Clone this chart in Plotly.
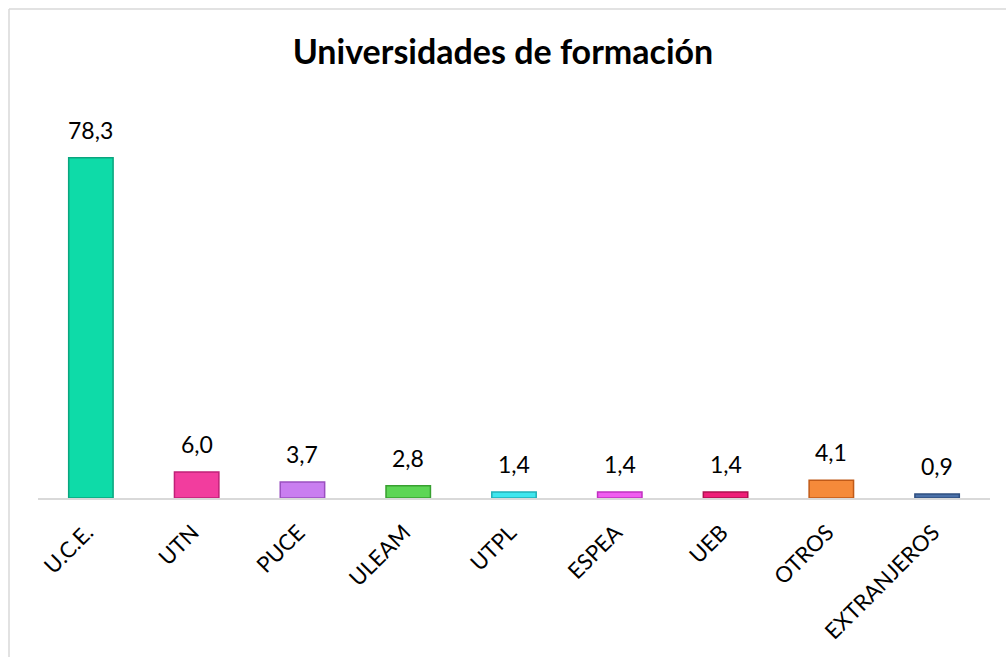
import plotly.graph_objects as go

categories = ["U.C.E.", "UTN", "PUCE", "ULEAM", "UTPL", "ESPEA", "UEB", "OTROS", "EXTRANJEROS"]
values = [78.3, 6.0, 3.7, 2.8, 1.4, 1.4, 1.4, 4.1, 0.9]
colors = ["#0edba8", "#f23d9e", "#c97ef0", "#5dd655", "#3fe6ee", "#f05cf0", "#ee1f78", "#f58a3a", "#4a70a8"]
edge_colors = ["#0aa57e", "#c02078", "#9a50c0", "#38a030", "#20b0b8", "#c030c0", "#b01050", "#c05a18", "#2f4f80"]

W, H = 1006, 657
L, R, T, B = 38, 16, 107, 159
pw, ph = W - L - R, H - T - B

fig = go.Figure(go.Bar(
    x=categories,
    y=values,
    width=0.42,
    marker=dict(color=colors, line=dict(color=edge_colors, width=1.5)),
    hoverinfo="x+y",
))

annotations = [
    dict(x=c, y=v, text=f"{v:.1f}".replace(".", ","), xref="x", yref="y",
         showarrow=False, yanchor="bottom", xanchor="center", yshift=12,
         font=dict(size=23, color="#000000", family="Lato"))
    for c, v in zip(categories, values)
]

fig.update_layout(
    width=W, height=H,
    separators=",.",
    paper_bgcolor="white", plot_bgcolor="white",
    margin=dict(l=L, r=R, t=T, b=B, autoexpand=False),
    title=dict(text="<b>Universidades de formación</b>", x=0.5, xanchor="center",
               y=1 - 52/H, yanchor="middle",
               font=dict(size=34, color="#000000", family="Lato")),
    font=dict(family="Lato", color="#000000"),
    showlegend=False,
    annotations=annotations,
    xaxis=dict(tickangle=-45, tickfont=dict(size=22, color="#000000"),
               showline=True, linecolor="#d9d9d9", linewidth=2, ticks="",
               showgrid=False, automargin=False, ticklabelstandoff=11,
               ticklabelshift=-4),
    yaxis=dict(range=[0, 90], visible=False, showgrid=False, zeroline=False, automargin=False),
    shapes=[
        dict(type="line", xref="paper", yref="paper", x0=-(L-9)/pw, x1=-(L-9)/pw,
             y0=-B/ph - 0.1, y1=1 + (T-9)/ph, line=dict(color="#d9d9d9", width=1.5)),
        dict(type="line", xref="paper", yref="paper", x0=-(L-9)/pw, x1=1 + R/pw + 0.1,
             y0=1 + (T-9)/ph, y1=1 + (T-9)/ph, line=dict(color="#d9d9d9", width=1.5)),
    ],
)

fig.write_html("out.html", config={"displayModeBar": False},
               post_script="document.body.style.margin='0px';document.body.style.padding='0px';")
